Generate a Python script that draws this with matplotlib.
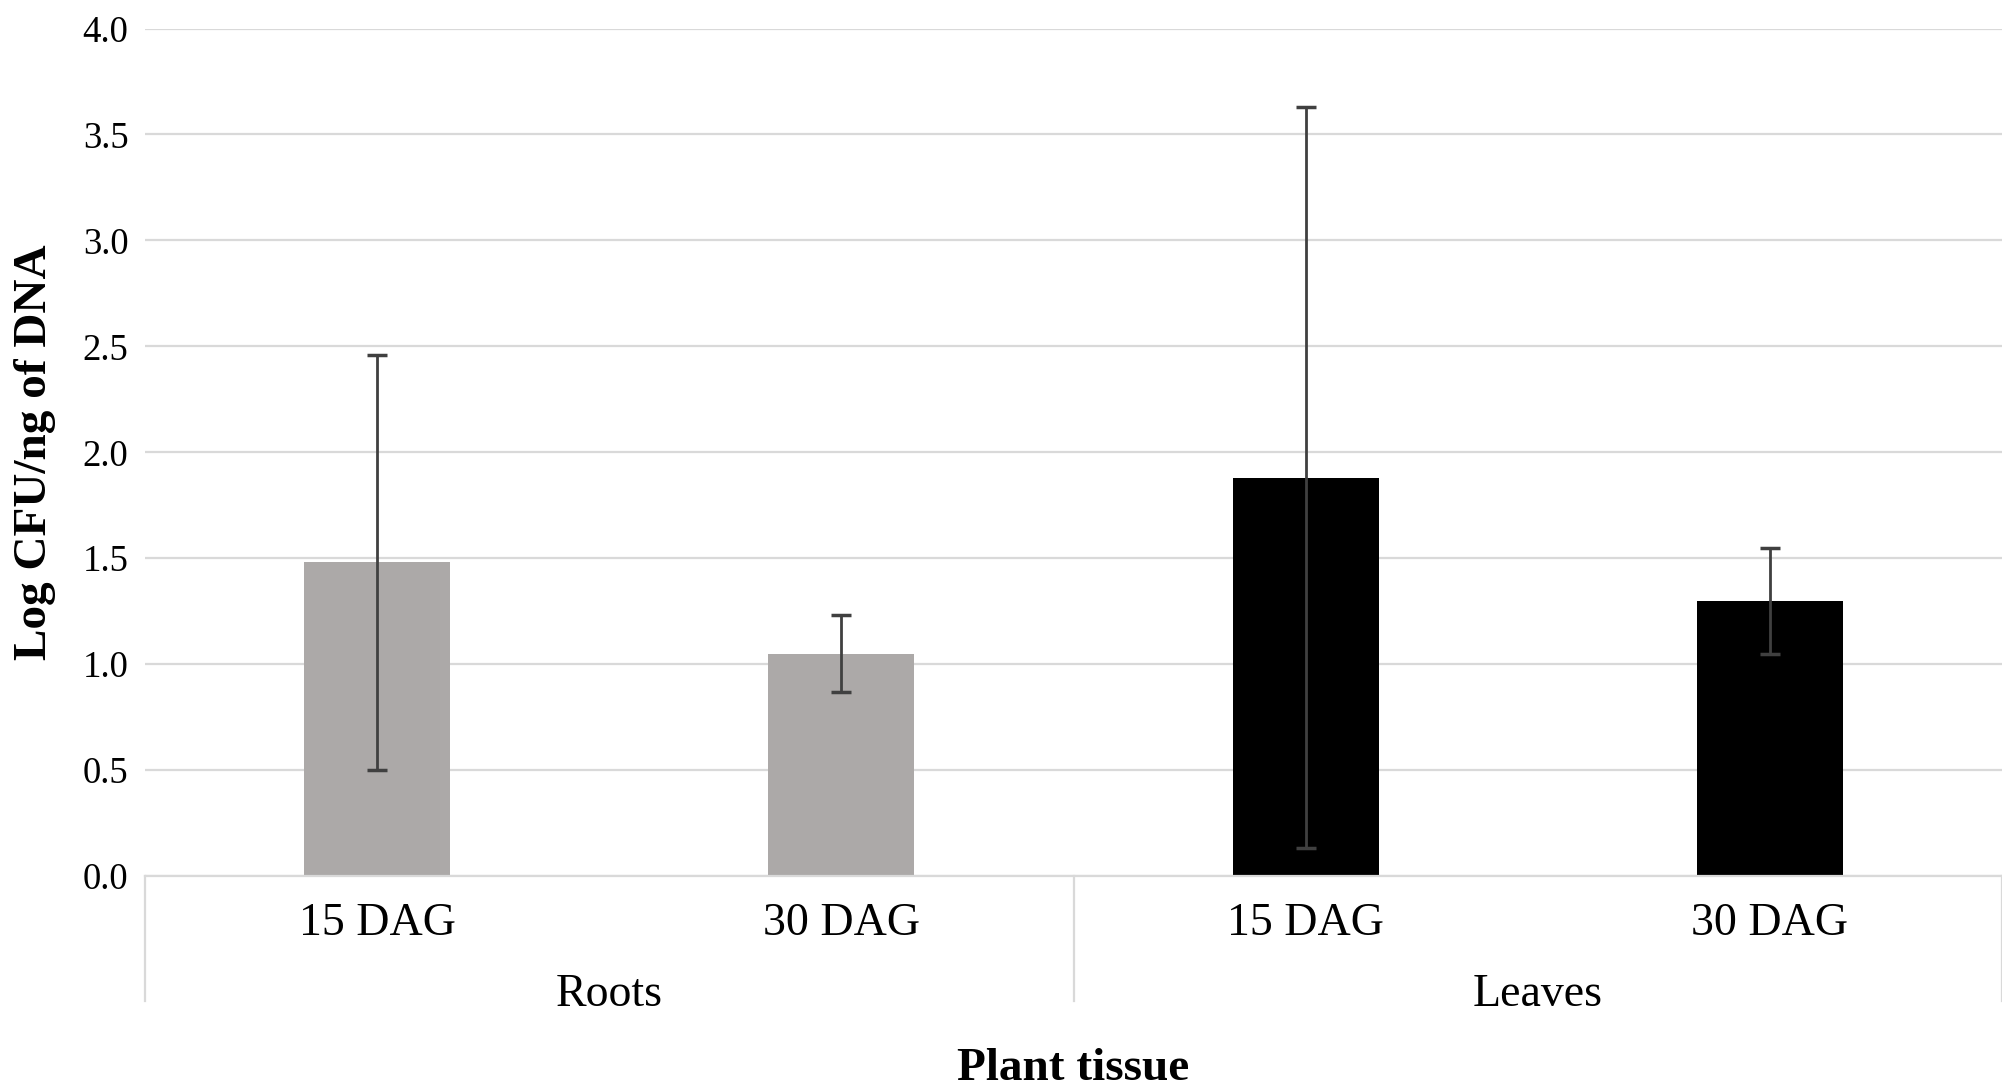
import numpy as np
import matplotlib
matplotlib.use('Agg')
import matplotlib.pyplot as plt
import matplotlib.transforms as mtransforms

# data
groups = ['Roots', 'Leaves']
times = ['15 DAG', '30 DAG']
means = [1.48, 1.05, 1.88, 1.30]
errors = [0.98, 0.18, 1.75, 0.25]
bar_colors = ['#aca9a8', '#aca9a8', '#000000', '#000000']
yticks = [0.0, 0.5, 1.0, 1.5, 2.0, 2.5, 3.0, 3.5, 4.0]

plt.rcParams['font.family'] = ['Liberation Serif', 'DejaVu Serif']

fig = plt.figure(figsize=(20.02, 10.88), dpi=100)
ax = fig.add_axes([145 / 2002, 1 - 876 / 1088, 1 - 145 / 2002, (876 - 28.5) / 1088])

x = np.arange(len(means))
ax.set_axisbelow(True)
ax.grid(axis='y', color='#d9d9d9', lw=1.6)
ax.bar(x, means, width=0.314, color=bar_colors, zorder=2)
ax.errorbar(x, means, yerr=errors, fmt='none', ecolor='#404040', elinewidth=2,
            capsize=7, capthick=2.5, zorder=3)

ax.set_xlim(-0.5, len(means) - 0.5)
ax.set_ylim(0, 4)
ax.set_yticks(yticks)
ax.set_yticklabels([f'{v:.1f}' for v in yticks], fontsize=26.5)
ax.set_xticks(x)
ax.set_xticklabels(times * len(groups), fontsize=33)
ax.tick_params(axis='both', length=0)
ax.tick_params(axis='x', pad=19)
ax.tick_params(axis='y', pad=12)

for s in ['top', 'right', 'left']:
    ax.spines[s].set_visible(False)
ax.spines['bottom'].set_color('#d9d9d9')
ax.spines['bottom'].set_linewidth(1.6)

# group separators and group labels below the tick labels
trans = mtransforms.blended_transform_factory(ax.transData, ax.transAxes)
n = len(times)
for i in range(len(groups) + 1):
    xb = i * n - 0.5
    ax.plot([xb, xb], [0, -0.147], color='#d9d9d9', lw=1.6, transform=trans, clip_on=False)
for i, g in enumerate(groups):
    xc = i * n + (n - 1) / 2
    ax.text(xc, -0.14, g, transform=trans, ha='center', va='center', fontsize=33)

ax.set_xlabel('Plant tissue', fontsize=34, fontweight='bold', labelpad=0)
ax.xaxis.label.set_va('center')
ax.xaxis.set_label_coords(0.5, -0.228)
ax.set_ylabel('Log CFU/ng of DNA', fontsize=34, fontweight='bold')
ax.yaxis.set_label_coords(-0.048, 0.5)

fig.savefig('out.png', dpi=100)
